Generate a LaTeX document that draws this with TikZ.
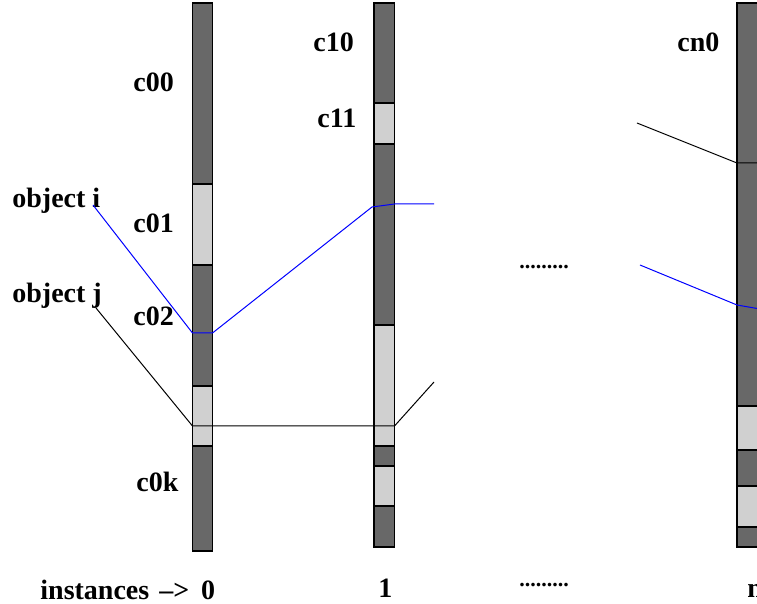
\documentclass[tikz,border=0pt]{standalone}
\usepackage{fontspec}
\setmainfont{Liberation Serif}
\definecolor{segdark}{RGB}{104,104,104}
\definecolor{seglight}{RGB}{208,208,208}

\begin{document}
\begin{tikzpicture}[
  x=0.5pt,y=-0.5pt,
  seg/.style={draw=black,line width=0.6pt},
  lbl/.style={anchor=base west,inner sep=0pt,font=\fontsize{14}{16}\selectfont\bfseries},
  dotrow/.style={lbl,font=\fontsize{11}{13}\selectfont\bfseries},
  link/.style={line width=0.5pt,line join=round}
]
  \clip (0,0) rectangle (757,604);

  % instance columns
  \foreach \t/\b/\s in {3/184/segdark,184/265/seglight,265/386/segdark,386/446/seglight,446/551/segdark}
    \filldraw[seg,fill=\s] (192.5,\t) rectangle (212.5,\b);
  \foreach \t/\b/\s in {3/103/segdark,103/144/seglight,144/325/segdark,325/446/seglight,446/466/segdark,466/506/seglight,506/547/segdark}
    \filldraw[seg,fill=\s] (374,\t) rectangle (394.5,\b);
  \foreach \t/\b/\s in {3/406/segdark,406/450/seglight,450/486/segdark,486/527/seglight,527/547/segdark}
    \filldraw[seg,fill=\s] (737,\t) rectangle (777,\b);

  % labels
  \node[lbl] (c00) at (133,92) {c00};
  \node[lbl] (c01) at (133,233) {c01};
  \node[lbl] (c02) at (133,326) {c02};
  \node[lbl] (c0k) at (136,492) {c0k};
  \node[lbl] (c10) at (313,52) {c10};
  \node[lbl] (c11) at (317,128) {c11};
  \node[lbl] (cn0) at (677,52) {cn0};
  \node[lbl] (obji) at (12,208) {object i};
  \node[lbl] (objj) at (12,303) {object j};
  \node[lbl] (inst0) at (40,600) {instances\hspace{1.5pt} -->\hspace{2.5pt} 0};
  \node[lbl] (inst1) at (378,598) {1};
  \node[lbl] (instn) at (747,598) {n};
  \node[dotrow] (gapmid) at (519,269) {.........};
  \node[dotrow] (gapbot) at (519,587) {.........};

  % object i
  \coordinate (i0) at (93,205);
  \coordinate (i1) at (192.5,333);
  \coordinate (i2) at (212.5,333);
  \coordinate (i3) at (372,207);
  \coordinate (i4) at (394.5,204);
  \coordinate (i5) at (434,204);
  \coordinate (i6) at (640,265);
  \coordinate (i7) at (737,305);
  \coordinate (i8) at (760,309);
  \draw[link,blue] (i0) -- (i1) -- (i2) -- (i3) -- (i4) -- (i5);
  \draw[link,blue] (i6) -- (i7) -- (i8);

  % object j
  \coordinate (j0) at (96,308);
  \coordinate (j1) at (192.5,426);
  \coordinate (j2) at (394.5,426);
  \coordinate (j3) at (434,382);
  \coordinate (j4) at (637,123);
  \coordinate (j5) at (737,163);
  \coordinate (j6) at (760,163);
  \draw[link] (j0) -- (j1) -- (j2) -- (j3);
  \draw[link] (j4) -- (j5) -- (j6);
\end{tikzpicture}
\end{document}
